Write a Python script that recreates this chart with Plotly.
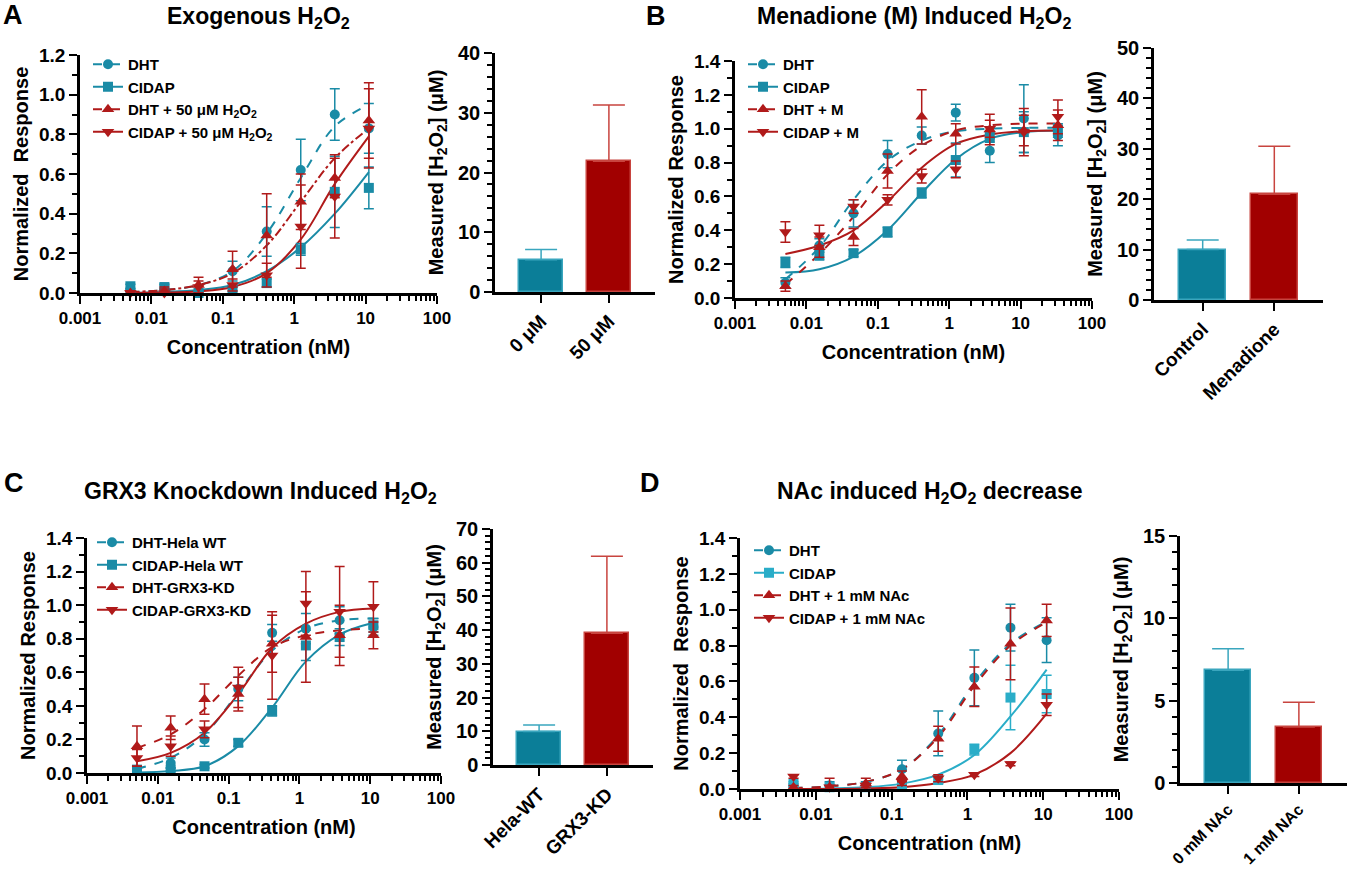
"""Dose-response curves and measured H2O2 bars, four panels."""

import plotly.graph_objects as go

# concentrations (nM), 3-fold dilutions
conc = [0.00508, 0.0152, 0.0457, 0.137, 0.412, 1.235, 3.70, 11.1]
conc_b = conc + [33.3]

# ---- panel A: exogenous H2O2
a_dht = [0.01, 0.02, 0.00, 0.11, 0.31, 0.62, 0.90, 0.83]
a_dht_err = [0.01, 0.02, 0.01, 0.05, 0.125, 0.155, 0.13, 0.125]
a_dht_fit = [0.005, 0.015, 0.04, 0.11, 0.30, 0.58, 0.84, 0.95]
a_cidap = [0.034, 0.03, 0.0, 0.02, 0.05, 0.22, 0.51, 0.53]
a_cidap_err = [0.01, 0.015, 0.01, 0.01, 0.02, 0.03, 0.18, 0.105]
a_cidap_fit = [0.0, 0.005, 0.015, 0.04, 0.11, 0.23, 0.40, 0.61]
a_dht_h = [0.0, 0.01, 0.04, 0.12, 0.29, 0.46, 0.58, 0.87]
a_dht_h_err = [0.01, 0.02, 0.04, 0.09, 0.21, 0.14, 0.10, 0.19]
a_dht_h_fit = [0.005, 0.015, 0.04, 0.10, 0.24, 0.46, 0.68, 0.83]
a_cidap_h = [0.0, 0.0, 0.03, 0.04, 0.09, 0.335, 0.487, 0.83]
a_cidap_h_err = [0.01, 0.02, 0.03, 0.03, 0.06, 0.21, 0.21, 0.20]
a_cidap_h_fit = [0.0, 0.002, 0.008, 0.03, 0.10, 0.27, 0.55, 0.79]
a_bar_labels = ["0 μM", "50 μM"]
a_bar_vals = [5.4, 21.9]
a_bar_err = [1.7, 9.4]

# ---- panel B: menadione
b_dht = [0.09, 0.31, 0.50, 0.85, 0.96, 1.095, 0.87, 1.06, 0.96]
b_dht_err = [0.03, 0.04, 0.08, 0.08, 0.05, 0.05, 0.07, 0.20, 0.06]
b_dht_fit = [0.11, 0.30, 0.58, 0.81, 0.93, 0.985, 1.0, 1.005, 1.005]
b_cidap = [0.21, 0.255, 0.265, 0.39, 0.62, 0.815, 0.95, 0.98, 0.99]
b_cidap_err = [0.03, 0.03, 0.02, 0.03, 0.03, 0.10, 0.03, 0.12, 0.04]
b_cidap_fit = [0.15, 0.17, 0.245, 0.40, 0.62, 0.82, 0.94, 0.98, 0.99]
b_dht_m = [0.07, 0.30, 0.36, 0.75, 1.07, 0.97, 0.995, 0.99, 1.02]
b_dht_m_err = [0.03, 0.06, 0.05, 0.10, 0.16, 0.06, 0.09, 0.09, 0.09]
b_dht_m_fit = [0.08, 0.26, 0.48, 0.73, 0.90, 0.99, 1.02, 1.03, 1.03]
b_cidap_m = [0.39, 0.37, 0.54, 0.58, 0.72, 0.76, 1.00, 0.98, 1.07]
b_cidap_m_err = [0.06, 0.06, 0.04, 0.03, 0.04, 0.05, 0.05, 0.14, 0.10]
b_cidap_m_fit = [0.26, 0.31, 0.40, 0.57, 0.77, 0.91, 0.965, 0.985, 0.99]
b_bar_labels = ["Control", "Menadione"]
b_bar_vals = [10.0, 21.0]
b_bar_err = [1.9, 9.5]

# ---- panel C: GRX3 knockdown
c_dht = [0.02, 0.06, 0.20, 0.50, 0.835, 0.86, 0.91, 0.87]
c_dht_err = [0.02, 0.03, 0.04, 0.07, 0.05, 0.09, 0.08, 0.05]
c_dht_fit = [0.025, 0.09, 0.23, 0.48, 0.73, 0.86, 0.91, 0.92]
c_cidap = [0.02, 0.02, 0.04, 0.18, 0.37, 0.76, 0.81, 0.88]
c_cidap_err = [0.01, 0.01, 0.01, 0.02, 0.03, 0.09, 0.05, 0.04]
c_cidap_fit = [0.003, 0.012, 0.04, 0.16, 0.39, 0.665, 0.825, 0.895]
c_dht_kd = [0.16, 0.27, 0.44, 0.47, 0.77, 0.81, 0.82, 0.82]
c_dht_kd_err = [0.12, 0.07, 0.09, 0.10, 0.17, 0.27, 0.18, 0.08]
c_dht_kd_fit = [0.15, 0.23, 0.38, 0.58, 0.75, 0.82, 0.85, 0.86]
c_cidap_kd = [0.09, 0.16, 0.26, 0.51, 0.70, 1.01, 0.96, 0.99]
c_cidap_kd_err = [0.05, 0.06, 0.05, 0.12, 0.26, 0.19, 0.27, 0.15]
c_cidap_kd_fit = [0.07, 0.12, 0.24, 0.47, 0.745, 0.89, 0.96, 0.98]
c_bar_labels = ["Hela-WT", "GRX3-KD"]
c_bar_vals = [9.9, 39.1]
c_bar_err = [2.0, 22.8]

# ---- panel D: NAc
d_dht = [0.02, 0.02, 0.02, 0.11, 0.31, 0.62, 0.90, 0.83]
d_dht_err = [0.01, 0.02, 0.02, 0.05, 0.125, 0.155, 0.13, 0.125]
d_dht_fit = [0.005, 0.015, 0.04, 0.11, 0.30, 0.59, 0.81, 0.935]
d_cidap = [0.03, 0.01, 0.01, 0.02, 0.05, 0.22, 0.51, 0.53]
d_cidap_err = [0.01, 0.01, 0.01, 0.01, 0.02, 0.03, 0.18, 0.105]
d_cidap_fit = [0.0, 0.003, 0.01, 0.03, 0.08, 0.19, 0.405, 0.666]
d_dht_nac = [0.01, 0.01, 0.03, 0.07, 0.28, 0.57, 0.81, 0.94]
d_dht_nac_err = [0.01, 0.05, 0.03, 0.03, 0.07, 0.11, 0.20, 0.09]
d_dht_nac_fit = [0.005, 0.015, 0.04, 0.11, 0.29, 0.575, 0.80, 0.93]
d_cidap_nac = [0.07, 0.01, 0.02, 0.04, 0.06, 0.08, 0.14, 0.47]
d_cidap_nac_err = [0.01, 0.01, 0.01, 0.02, 0.02, 0.01, 0.01, 0.06]
d_cidap_nac_fit = [0.0, 0.0, 0.003, 0.01, 0.033, 0.08, 0.20, 0.42]
d_bar_labels = ["0 mM NAc", "1 mM NAc"]
d_bar_vals = [6.85, 3.4]
d_bar_err = [1.3, 1.5]

TEAL = "#1A8BA6"
TEAL_LIGHT = "#2AADC8"
RED = "#B01A1A"
BAR_TEAL = "#0B7E98"
BAR_RED = "#A10000"
FAMILY = "Liberation Sans, Arial, sans-serif"
H2O2 = "H<sub>2</sub>O<sub>2</sub>"


def bold(size):
    return dict(family=FAMILY, size=size, color="black", weight="bold")


def px_x(p):
    return p / 1350


def px_y(p):
    return 1 - p / 875


fig = go.Figure()


def line_panel(n, leg, x, series):
    """Curves + points with error bars for one dose-response panel."""
    xa, ya = f"x{n}", f"y{n}"
    for s in series:
        fig.add_trace(go.Scatter(
            x=x[:len(s["fit"])], y=s["fit"], mode="lines", xaxis=xa, yaxis=ya,
            line=dict(color=s["color"], width=2, dash=s["dash"], shape="spline"),
            showlegend=False, hoverinfo="skip"))
    for s in series:
        fig.add_trace(go.Scatter(
            x=x, y=s["y"], mode="markers", xaxis=xa, yaxis=ya,
            marker=dict(color=s["color"], size=s.get("size", 10), symbol=s["symbol"]),
            error_y=dict(type="data", array=s["err"], color=s["color"],
                         thickness=1.5, width=5),
            cliponaxis=False, showlegend=False, name=s["name"]))
    # legend-only entries (line + marker sample)
    for s in series:
        fig.add_trace(go.Scatter(
            x=[None], y=[None], mode="lines+markers", xaxis=xa, yaxis=ya,
            name=s["name"], legend=leg,
            line=dict(color=s["color"], width=2, dash=s["dash"]),
            marker=dict(color=s["color"], size=s.get("size", 10), symbol=s["symbol"])))


def bar_panel(n, labels, vals, errs):
    xa, ya = f"x{n}", f"y{n}"
    fills = [BAR_TEAL, BAR_RED]
    edges = ["#3AA6BE", "#C8443F"]
    for i in range(2):
        fig.add_trace(go.Bar(
            x=[i], y=[vals[i]], width=0.66, xaxis=xa, yaxis=ya,
            marker=dict(color=fills[i], line=dict(color=edges[i], width=1.5)),
            error_y=dict(type="data", symmetric=False, array=[errs[i]], arrayminus=[0],
                         color=edges[i], thickness=1.5, width=16),
            showlegend=False, name=labels[i]))


line_panel("", "legend", conc, [
    dict(name="DHT", y=a_dht, err=a_dht_err, fit=a_dht_fit, color=TEAL, symbol="circle", dash="dash"),
    dict(name="CIDAP", y=a_cidap, err=a_cidap_err, fit=a_cidap_fit, color=TEAL, symbol="square", dash="solid"),
    dict(name=f"DHT + 50 μM {H2O2}", y=a_dht_h, err=a_dht_h_err, fit=a_dht_h_fit, color=RED,
         symbol="triangle-up", dash="dashdot", size=11),
    dict(name=f"CIDAP + 50 μM {H2O2}", y=a_cidap_h, err=a_cidap_h_err, fit=a_cidap_h_fit, color=RED,
         symbol="triangle-down", dash="solid", size=11),
])
bar_panel(2, a_bar_labels, a_bar_vals, a_bar_err)

line_panel(3, "legend2", conc_b, [
    dict(name="DHT", y=b_dht, err=b_dht_err, fit=b_dht_fit, color=TEAL, symbol="circle", dash="dash"),
    dict(name="CIDAP", y=b_cidap, err=b_cidap_err, fit=b_cidap_fit, color=TEAL, symbol="square", dash="solid"),
    dict(name="DHT + M", y=b_dht_m, err=b_dht_m_err, fit=b_dht_m_fit, color=RED,
         symbol="triangle-up", dash="dash", size=11),
    dict(name="CIDAP + M", y=b_cidap_m, err=b_cidap_m_err, fit=b_cidap_m_fit, color=RED,
         symbol="triangle-down", dash="solid", size=11),
])
bar_panel(4, b_bar_labels, b_bar_vals, b_bar_err)

line_panel(5, "legend3", conc, [
    dict(name="DHT-Hela WT", y=c_dht, err=c_dht_err, fit=c_dht_fit, color=TEAL, symbol="circle", dash="dash"),
    dict(name="CIDAP-Hela WT", y=c_cidap, err=c_cidap_err, fit=c_cidap_fit, color=TEAL, symbol="square", dash="solid"),
    dict(name="DHT-GRX3-KD", y=c_dht_kd, err=c_dht_kd_err, fit=c_dht_kd_fit, color=RED,
         symbol="triangle-up", dash="dash", size=11),
    dict(name="CIDAP-GRX3-KD", y=c_cidap_kd, err=c_cidap_kd_err, fit=c_cidap_kd_fit, color=RED,
         symbol="triangle-down", dash="solid", size=11),
])
bar_panel(6, c_bar_labels, c_bar_vals, c_bar_err)

line_panel(7, "legend4", conc, [
    dict(name="DHT", y=d_dht, err=d_dht_err, fit=d_dht_fit, color=TEAL, symbol="circle", dash="dash"),
    dict(name="CIDAP", y=d_cidap, err=d_cidap_err, fit=d_cidap_fit, color=TEAL_LIGHT, symbol="square", dash="solid"),
    dict(name="DHT + 1 mM NAc", y=d_dht_nac, err=d_dht_nac_err, fit=d_dht_nac_fit, color=RED,
         symbol="triangle-up", dash="dash", size=11),
    dict(name="CIDAP + 1 mM NAc", y=d_cidap_nac, err=d_cidap_nac_err, fit=d_cidap_nac_fit, color=RED,
         symbol="triangle-down", dash="solid", size=11),
])
bar_panel(8, d_bar_labels, d_bar_vals, d_bar_err)

AX = dict(showline=True, linewidth=2.5, linecolor="black", ticks="outside", ticklen=8,
          tickwidth=2, tickcolor="black", showgrid=False, zeroline=False, automargin=False)


def log_xaxis(x0, x1, anchor):
    return dict(AX, domain=[px_x(x0), px_x(x1)], anchor=anchor, type="log", range=[-3, 2],
                tickvals=[0.001, 0.01, 0.1, 1, 10, 100],
                ticktext=["0.001", "0.01", "0.1", "1", "10", "100"],
                minor=dict(ticks="outside", ticklen=5, tickwidth=1.5, tickcolor="black", dtick="D1"),
                tickfont=bold(17),
                title=dict(text="Concentration (nM)", font=bold(20), standoff=13))


def resp_yaxis(y0, y1, top, anchor, title):
    return dict(AX, domain=[px_y(y1), px_y(y0)], anchor=anchor, range=[0, top],
                dtick=0.2, tickformat=".1f",
                minor=dict(ticks="outside", ticklen=5, tickwidth=1.5, tickcolor="black", dtick=0.1),
                tickfont=bold(19),
                title=dict(text=title, font=bold(20), standoff=6))


def bar_xaxis(x0, x1, labels, anchor, size=19):
    return dict(AX, domain=[px_x(x0), px_x(x1)], anchor=anchor, range=[-0.68, 1.68],
                tickvals=[0, 1], ticktext=labels, tickangle=-45, tickfont=bold(size))


def bar_yaxis(y0, y1, top, dtick, minor, anchor):
    return dict(AX, domain=[px_y(y1), px_y(y0)], anchor=anchor, range=[0, top], dtick=dtick,
                minor=dict(ticks="outside", ticklen=5, tickwidth=1.5, tickcolor="black", dtick=minor),
                tickfont=bold(20),
                title=dict(text=f"Measured [{H2O2}] (μM)", font=bold(20), standoff=10))


NR2 = "Normalized\u00a0 Response"
NR = "Normalized Response"

legend_base = dict(xanchor="left", yanchor="top", font=bold(15), bgcolor="rgba(0,0,0,0)",
                   itemwidth=30, tracegroupgap=0)

fig.update_layout(
    width=1350, height=875,
    margin=dict(l=0, r=0, t=0, b=0, autoexpand=False),
    paper_bgcolor="white", plot_bgcolor="white",
    font=dict(family=FAMILY, color="black"),
    xaxis=log_xaxis(80, 437, "y"),
    yaxis=resp_yaxis(55, 293, 1.2, "x", NR2),
    xaxis2=bar_xaxis(495, 655, a_bar_labels, "y2"),
    yaxis2=bar_yaxis(53, 292, 40, 10, 2, "x2"),
    xaxis3=log_xaxis(735, 1092, "y3"),
    yaxis3=resp_yaxis(61, 298, 1.4, "x3", NR),
    xaxis4=bar_xaxis(1154, 1323, b_bar_labels, "y4"),
    yaxis4=bar_yaxis(48, 300, 50, 10, 2, "x4"),
    xaxis5=log_xaxis(87, 441, "y5"),
    yaxis5=resp_yaxis(538, 773, 1.4, "x5", NR),
    xaxis6=bar_xaxis(493, 653, c_bar_labels, "y6"),
    yaxis6=bar_yaxis(529, 765, 70, 10, 2, "x6"),
    xaxis7=log_xaxis(740, 1119, "y7"),
    yaxis7=resp_yaxis(538, 789, 1.4, "x7", NR2),
    xaxis8=bar_xaxis(1180, 1347, d_bar_labels, "y8", size=16),
    yaxis8=bar_yaxis(536, 783, 15, 5, 1, "x8"),
    legend=dict(legend_base, x=px_x(88), y=px_y(48)),
    legend2=dict(legend_base, x=px_x(743), y=px_y(48)),
    legend3=dict(legend_base, x=px_x(92), y=px_y(526)),
    legend4=dict(legend_base, x=px_x(749), y=px_y(534)),
    bargap=0,
)

# panel titles and letters
titles = [
    (258, 17, f"Exogenous {H2O2}"),
    (914, 17, f"Menadione (M) Induced {H2O2}"),
    (260, 493, f"GRX3 Knockdown Induced {H2O2}"),
    (930, 493, f"NAc induced {H2O2} decrease"),
]
for x, y, t in titles:
    fig.add_annotation(text=t, x=px_x(x), y=px_y(y), xref="paper", yref="paper",
                       showarrow=False, font=bold(23), xanchor="center", yanchor="middle")

letters = [(13, 15, "A"), (656, 16, "B"), (14, 483, "C"), (650, 483, "D")]
for x, y, t in letters:
    fig.add_annotation(text=t, x=px_x(x), y=px_y(y), xref="paper", yref="paper",
                       showarrow=False, font=bold(27), xanchor="center", yanchor="middle")

# drop the default page margin so the figure sits at the window's top-left corner
fig.write_html("out.html", config={"displayModeBar": False},
               post_script="document.body.style.margin='0';document.body.style.overflow='hidden';")
